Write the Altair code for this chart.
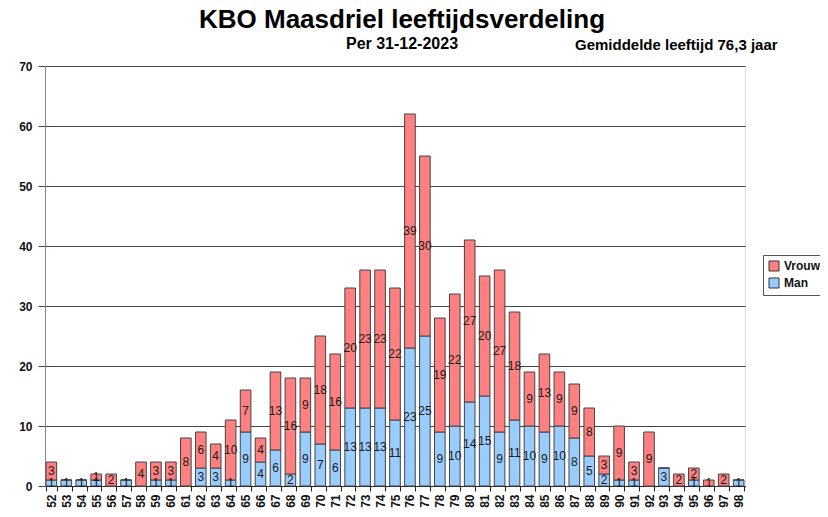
import altair as alt
import pandas as pd

ages = [str(a) for a in range(52, 99)]
man = [1, 1, 1, 1, 0, 1, 0, 1, 1, 0,
       3, 3, 1, 9, 4, 6, 2, 9, 7, 6,
       13, 13, 13, 11, 23, 25, 9, 10, 14, 15,
       9, 11, 10, 9, 10, 8, 5, 2, 1, 1,
       0, 3, 0, 1, 0, 0, 1]
vrouw = [3, 0, 0, 1, 2, 0, 4, 3, 3, 8,
         6, 4, 10, 7, 4, 13, 16, 9, 18, 16,
         20, 23, 23, 22, 39, 30, 19, 22, 27, 20,
         27, 18, 9, 13, 9, 9, 8, 3, 9, 3,
         9, 0, 2, 2, 1, 2, 0]
series = ["Vrouw", "Man"]
colors = ["#FF8080", "#99CCFF"]
y_ticks = [0, 10, 20, 30, 40, 50, 60, 70]

rows = []
for a, m, v in zip(ages, man, vrouw):
    rows.append({"age": a, "sex": "Man", "count": m, "ord": 0})
    rows.append({"age": a, "sex": "Vrouw", "count": v, "ord": 1})
df = pd.DataFrame(rows)

FONT = "Liberation Sans, Arial, sans-serif"

base = alt.Chart(df).transform_stack(
    stack="count", groupby=["age"], as_=["y0", "y1"],
    sort=[alt.SortField("ord", order="ascending")]
).transform_calculate(mid="(datum.y0 + datum.y1) / 2")

xenc = alt.X("age:O", sort=ages, title=None,
             scale=alt.Scale(paddingInner=0.29, paddingOuter=0.07),
             axis=alt.Axis(labelAngle=-90, labelFontWeight="bold", labelFontSize=12,
                           labelFont=FONT, labelColor="#111", labelPadding=3,
                           tickBand="extent", tickSize=5, tickColor="#222",
                           domainColor="#222", labelBaseline="middle"))

bars = base.mark_bar(stroke="#444", strokeWidth=1).encode(
    x=xenc,
    y=alt.Y("y0:Q", title=None,
            scale=alt.Scale(domain=[0, 70], nice=False),
            axis=alt.Axis(values=y_ticks, labelFontWeight="bold", labelFontSize=12,
                          labelFont=FONT, labelColor="#111", labelPadding=6,
                          grid=True, gridColor="#444", gridWidth=1,
                          tickSize=7, tickColor="#444", domainColor="#888")),
    y2="y1:Q",
    color=alt.Color("sex:N", scale=alt.Scale(domain=series, range=colors),
                    legend=alt.Legend(title=None, orient="none", legendX=718, legendY=189,
                                      symbolType="square", symbolSize=100,
                                      symbolStrokeColor="#333", symbolStrokeWidth=1,
                                      labelFont=FONT, labelFontSize=12, labelFontWeight="bold",
                                      labelColor="#111", strokeColor="#555", padding=5,
                                      rowPadding=3, fillColor="white")),
)

labels = base.transform_filter("datum.count > 0").mark_text(
    font=FONT, fontSize=12, color="#1a1a1a", baseline="middle", align="center"
).encode(
    x=alt.X("age:O", sort=ages),
    y="mid:Q",
    text="count:Q",
)

note = alt.Chart(pd.DataFrame({"t": ["Gemiddelde leeftijd 76,3 jaar"]})).mark_text(
    font=FONT, fontSize=15, fontWeight="bold", color="#000", align="left", baseline="alphabetic"
).encode(x=alt.value(530), y=alt.value(-16), text="t:N")

chart = alt.layer(bars, labels, note).properties(
    width=700, height=420,
    autosize=alt.AutoSizeParams(type="none"),
    padding={"left": 37, "top": 58, "right": 75, "bottom": 23},
    title=alt.TitleParams(
        text="KBO Maasdriel leeftijdsverdeling",
        subtitle="Per 31-12-2023",
        font=FONT, fontSize=26, fontWeight="bold", color="#000",
        subtitleFont=FONT, subtitleFontSize=16, subtitleFontWeight="bold", subtitleColor="#000",
        subtitlePadding=3, anchor="middle", dx=7, dy=18, offset=4,
    ),
).configure_view(stroke=None).configure(background="white")

chart.save("out.html", embed_options={"renderer": "svg", "actions": False})
